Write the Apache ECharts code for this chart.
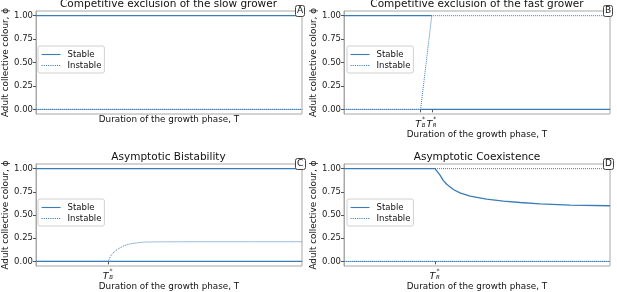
<!DOCTYPE html>
<html>
<head>
<meta charset="utf-8">
<script src="https://cdn.jsdelivr.net/npm/echarts@6/dist/echarts.min.js"></script>
<style>
  html, body { margin: 0; padding: 0; background: #fff; }
  #myChart { width: 617px; height: 292px; }
</style>
</head>
<body>
<div id="myChart"></div>
<script>
// x range of the growth phase (arbitrary units, no tick labels shown)
var tMin = 0
var tMax = 10
var yTicks = [0, 0.25, 0.5, 0.75, 1]

// panel B: competitive exclusion of the fast grower
var fastTB = 2.88
var fastTR = 3.30
// panel C: asymptotic bistability
var bistTB = 2.71
var bistT = [2.71, 2.81, 2.93, 3.06, 3.31, 3.56, 3.81, 4.06, 4.56, 6, 8, 10]
var bistPhi = [0, 0.06, 0.10, 0.13, 0.17, 0.19, 0.20, 0.208, 0.21, 0.212, 0.212, 0.212]
// panel D: asymptotic coexistence
var coexTR = 3.42
var coexT = [3.42, 3.61, 3.73, 3.86, 4.11, 4.36, 4.74, 5.36, 5.99, 6.62, 7.37, 8.5, 10]
var coexPhi = [1, 0.93, 0.874, 0.832, 0.775, 0.739, 0.703, 0.671, 0.649, 0.635, 0.62, 0.607, 0.60]

var titles = ['Competitive exclusion of the slow grower', 'Competitive exclusion of the fast grower',
              'Asymptotic Bistability', 'Asymptotic Coexistence']
var letters = ['A', 'B', 'C', 'D']
// special tick marks on the x axis
var markValues = [[], [fastTB, fastTR], [bistTB], [coexTR]]
var markNames = [[], ['B', 'R'], ['B'], ['R']]

function pairs(xs, ys) {
    return xs.map(function (x, i) { return [x, ys[i]] })
}

var blue = '#3a7cb6'
var frame = '#a8a8a8'
var font = 'DejaVu Sans'

var grids = [
    {left: 35, top: 11, width: 267, height: 103},
    {left: 344, top: 11, width: 266, height: 103},
    {left: 35, top: 164, width: 267, height: 102},
    {left: 344, top: 164, width: 266, height: 102}
]

var xAxes = [], yAxes = [], titleList = [], legends = []
grids.forEach(function (g, i) {
    g.show = true
    g.borderColor = frame
    g.borderWidth = 1
    var vals = markValues[i], names = markNames[i]
    xAxes.push({
        type: 'value', gridIndex: i, min: tMin, max: tMax,
        name: 'Duration of the growth phase, T',
        nameLocation: 'middle',
        nameGap: vals.length ? 16 : 1,
        nameMoveOverlap: false,
        nameTextStyle: {fontFamily: font, fontSize: 8.8, color: '#111', verticalAlign: 'top'},
        axisLine: {lineStyle: {color: frame}},
        splitLine: {show: false},
        axisTick: {show: vals.length > 0, customValues: vals, length: 3, lineStyle: {color: '#555'}},
        axisLabel: {
            show: vals.length > 0,
            customValues: vals,
            margin: 3,
            fontSize: 6,
            lineHeight: 4,
            formatter: function (v) {
                var k = vals.indexOf(v)
                return '{p|}{s|*}\n{t|T}{b|' + (names[k] || '') + '}'
            },
            rich: {
                p: {width: 6, fontSize: 6, lineHeight: 4},
                s: {width: 5, fontSize: 6, lineHeight: 4, fontFamily: font, color: '#111'},
                t: {width: 6, fontSize: 9.5, lineHeight: 8, fontStyle: 'italic', fontFamily: font, color: '#111'},
                b: {width: 5, fontSize: 5.5, lineHeight: 8, fontStyle: 'italic', verticalAlign: 'bottom', fontFamily: font, color: '#111'}
            }
        }
    })
    yAxes.push({
        type: 'value', gridIndex: i, min: -0.05, max: 1.05,
        name: 'Adult collective colour, ϕ',
        nameLocation: 'middle', nameRotate: 90, nameGap: 26,
        nameMoveOverlap: false,
        nameTextStyle: {fontFamily: font, fontSize: 8.8, color: '#111'},
        axisLine: {show: true, lineStyle: {color: frame}},
        splitLine: {show: false},
        axisTick: {customValues: yTicks, length: 3, lineStyle: {color: '#555'}},
        axisLabel: {
            customValues: yTicks, margin: 3,
            fontFamily: font, fontSize: 8.5, color: '#222',
            formatter: function (v) { return v.toFixed(2) }
        }
    })
    titleList.push({
        text: titles[i],
        left: g.left + g.width / 2, top: g.top - 12, textAlign: 'center', padding: 0,
        textStyle: {fontFamily: font, fontSize: 10.5, fontWeight: 'normal', color: '#111'}
    })
    titleList.push({
        text: letters[i],
        left: g.left + g.width - 7, top: g.top - 6, padding: [1, 2, 1, 2],
        backgroundColor: '#fff', borderColor: '#444', borderWidth: 1, borderRadius: 2,
        textStyle: {fontFamily: font, fontSize: 9, fontWeight: 'normal', color: '#111', lineHeight: 10}
    })
    legends.push({
        data: ['Stable', 'Instable'],
        orient: 'vertical',
        left: g.left + 3, top: g.top + 35,
        itemWidth: 19, itemHeight: 11, itemGap: 2,
        padding: [4, 3, 3, 3],
        borderColor: '#d0d0d0', borderWidth: 1, borderRadius: 2,
        backgroundColor: '#fff',
        selectedMode: false,
        itemStyle: {color: 'rgba(0,0,0,0)', borderWidth: 0},
        lineStyle: {width: 1.1, color: blue},
        textStyle: {fontFamily: font, fontSize: 8.5, color: '#111', padding: [0, 0, 0, 2]}
    })
})

function line(name, grid, data, dotted) {
    return {
        name: name, type: 'line', xAxisIndex: grid, yAxisIndex: grid,
        data: data, symbol: 'none', showSymbol: false,
        lineStyle: {color: blue, width: dotted ? 1 : 1.3, type: dotted ? 'dotted' : 'solid'},
        itemStyle: {color: blue},
        animation: false
    }
}

var series = [
    // A
    line('Stable', 0, [[tMin, 1], [tMax, 1]], false),
    line('Instable', 0, [[tMin, 0], [tMax, 0]], true),
    // B
    line('Stable', 1, [[tMin, 1], [fastTR, 1]], false),
    line('Stable', 1, [[fastTB, 0], [tMax, 0]], false),
    line('Instable', 1, [[tMin, 0], [fastTB, 0], [fastTR, 1], [tMax, 1]], true),
    // C
    line('Stable', 2, [[tMin, 1], [tMax, 1]], false),
    line('Stable', 2, [[tMin, 0], [tMax, 0]], false),
    line('Instable', 2, [[tMin, 0]].concat(pairs(bistT, bistPhi)), true),
    // D
    line('Stable', 3, [[tMin, 1]].concat(pairs(coexT, coexPhi)), false),
    line('Instable', 3, [[coexTR, 1], [tMax, 1]], true),
    line('Instable', 3, [[tMin, 0], [tMax, 0]], true)
]

var myChart = echarts.init(document.getElementById('myChart'))
myChart.setOption({
    animation: false,
    title: titleList,
    legend: legends,
    grid: grids,
    xAxis: xAxes,
    yAxis: yAxes,
    series: series
})
window.addEventListener('resize', function () { myChart.resize() })
</script>
</body>
</html>
